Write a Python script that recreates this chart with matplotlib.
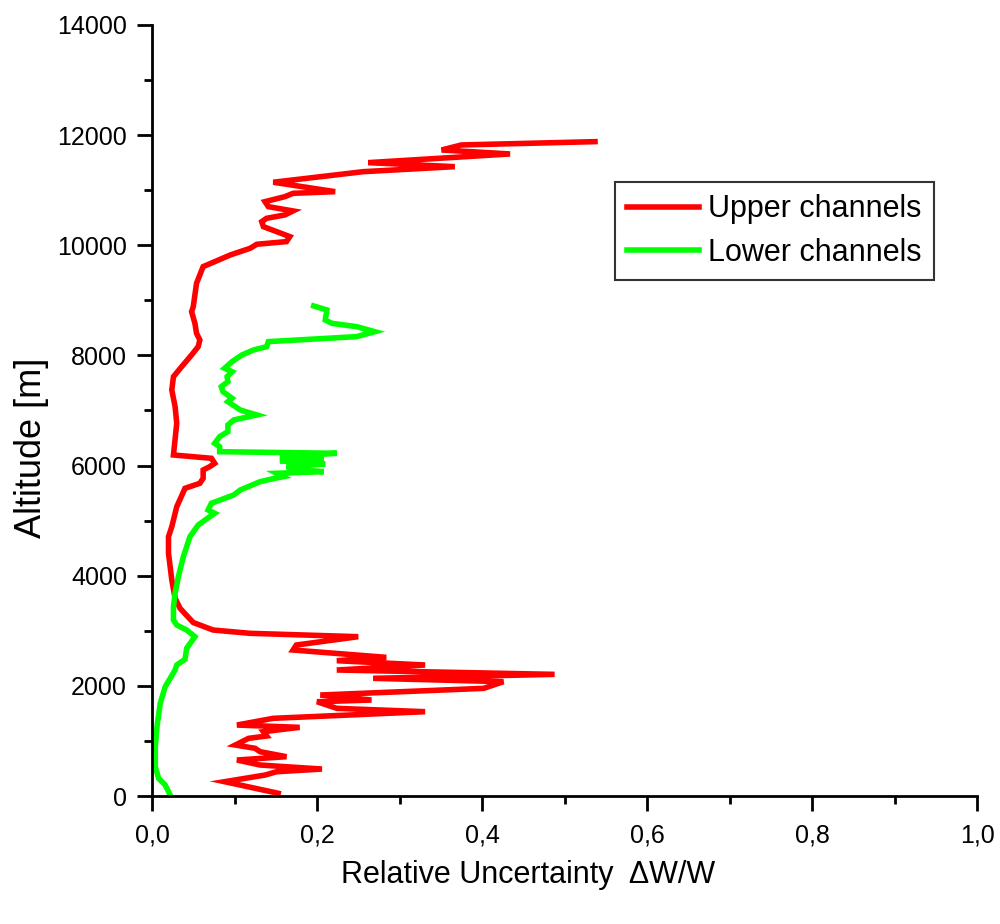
import matplotlib
matplotlib.use("Agg")
import matplotlib.pyplot as plt
from matplotlib.ticker import MultipleLocator, FuncFormatter

plt.rcParams['font.family'] = ['Liberation Sans', 'DejaVu Sans']

# Upper channels (red): relative uncertainty vs altitude
upper_x = [0.153, 0.088, 0.137, 0.151, 0.206, 0.131, 0.103, 0.163, 0.131, 0.125,
           0.101, 0.117, 0.139, 0.135, 0.179, 0.103, 0.147, 0.331, 0.224, 0.200,
           0.266, 0.204, 0.402, 0.426, 0.268, 0.488, 0.224, 0.331, 0.224, 0.284,
           0.171, 0.175, 0.250, 0.119, 0.074, 0.050, 0.034, 0.028, 0.024, 0.020,
           0.020, 0.024, 0.030, 0.040, 0.058, 0.062, 0.062, 0.070, 0.076, 0.072,
           0.026, 0.030, 0.028, 0.024, 0.026, 0.036, 0.048, 0.056, 0.058, 0.054,
           0.052, 0.048, 0.050, 0.054, 0.062, 0.095, 0.119, 0.127, 0.163, 0.167,
           0.135, 0.133, 0.139, 0.161, 0.171, 0.141, 0.137, 0.161, 0.171, 0.222,
           0.147, 0.256, 0.367, 0.262, 0.434, 0.351, 0.375, 0.537]
upper_alt = [50, 260, 381, 441, 490, 563, 654, 714, 805, 866,
             926, 1047, 1090, 1168, 1247, 1289, 1411, 1531, 1592, 1712,
             1743, 1834, 1955, 2076, 2137, 2209, 2288, 2379, 2457, 2518,
             2651, 2742, 2893, 2954, 3014, 3150, 3408, 3590, 3922, 4407,
             4709, 4890, 5253, 5587, 5678, 5769, 5920, 5980, 6041, 6132,
             6192, 6768, 7070, 7372, 7614, 7796, 8008, 8159, 8280, 8401,
             8583, 8794, 8885, 9310, 9612, 9824, 9945, 10018, 10066, 10157,
             10338, 10429, 10490, 10550, 10623, 10701, 10792, 10882, 10943, 10973,
             11144, 11336, 11427, 11500, 11658, 11730, 11821, 11881]

# Lower channels (green)
lower_x = [0.022, 0.016, 0.008, 0.004, 0.004, 0.006, 0.010, 0.016, 0.028, 0.030,
           0.040, 0.042, 0.052, 0.042, 0.030, 0.026, 0.026, 0.028, 0.032, 0.038,
           0.046, 0.056, 0.070, 0.076, 0.068, 0.072, 0.099, 0.107, 0.131, 0.149,
           0.159, 0.151, 0.208, 0.183, 0.163, 0.210, 0.155, 0.208, 0.155, 0.224,
           0.082, 0.082, 0.076, 0.082, 0.092, 0.092, 0.099, 0.127, 0.107, 0.092,
           0.097, 0.086, 0.084, 0.092, 0.091, 0.097, 0.088, 0.097, 0.109, 0.123,
           0.139, 0.141, 0.248, 0.270, 0.248, 0.218, 0.210, 0.212, 0.196]
lower_alt = [18, 200, 321, 532, 895, 1258, 1683, 1985, 2288, 2379,
             2482, 2682, 2893, 3014, 3105, 3196, 3438, 3681, 3983, 4346,
             4709, 4921, 5072, 5133, 5193, 5315, 5466, 5557, 5707, 5769,
             5798, 5860, 5889, 5920, 5980, 6029, 6089, 6132, 6161, 6223,
             6252, 6343, 6404, 6525, 6616, 6737, 6828, 6919, 7009, 7160,
             7222, 7342, 7432, 7523, 7614, 7705, 7766, 7887, 8008, 8099,
             8159, 8250, 8341, 8431, 8522, 8583, 8643, 8825, 8898]

fig = plt.figure(figsize=(10, 9.24), dpi=100)
ax = fig.add_axes([0.152, 0.1385, 0.825, 0.8345])

ax.plot(upper_x, upper_alt, color='#FF0000', lw=4.0, label='Upper channels',
        solid_joinstyle='miter')
ax.plot(lower_x, lower_alt, color='#00FF00', lw=4.0, label='Lower channels',
        solid_joinstyle='miter')

ax.set_xlim(0, 1.0)
ax.set_ylim(0, 14000)
for s in ('top', 'right'):
    ax.spines[s].set_visible(False)
for s in ('left', 'bottom'):
    ax.spines[s].set_linewidth(2.0)

ax.xaxis.set_major_locator(MultipleLocator(0.2))
ax.xaxis.set_minor_locator(MultipleLocator(0.1))
ax.yaxis.set_major_locator(MultipleLocator(2000))
ax.yaxis.set_minor_locator(MultipleLocator(1000))
ax.xaxis.set_major_formatter(FuncFormatter(lambda v, p: f"{v:.1f}".replace('.', ',')))
ax.yaxis.set_major_formatter(FuncFormatter(lambda v, p: f"{int(round(v))}"))

ax.tick_params(axis='both', which='major', length=11, width=2, labelsize=18, direction='out')
ax.tick_params(axis='both', which='minor', length=6, width=2, direction='out')
ax.tick_params(axis='x', which='major', pad=9)
ax.tick_params(axis='y', which='major', pad=7)

fig.text(0.032, 1 - 448 / 924, 'Altitude [m]', fontsize=26, rotation=90,
         ha='center', va='center')
fig.text(0.528, 0.053, 'Relative Uncertainty  ΔW/W', fontsize=22, ha='center', va='center')

leg = ax.legend(loc='upper left', bbox_to_anchor=(0.615, 1 - 182 / 924),
                bbox_transform=fig.transFigure, fontsize=22,
                frameon=True, fancybox=False, edgecolor='black', handlelength=2.35,
                handletextpad=0.3, borderpad=0.4, labelspacing=0.45, borderaxespad=0)
leg.get_frame().set_linewidth(1.5)

fig.savefig('out.png', dpi=100)
